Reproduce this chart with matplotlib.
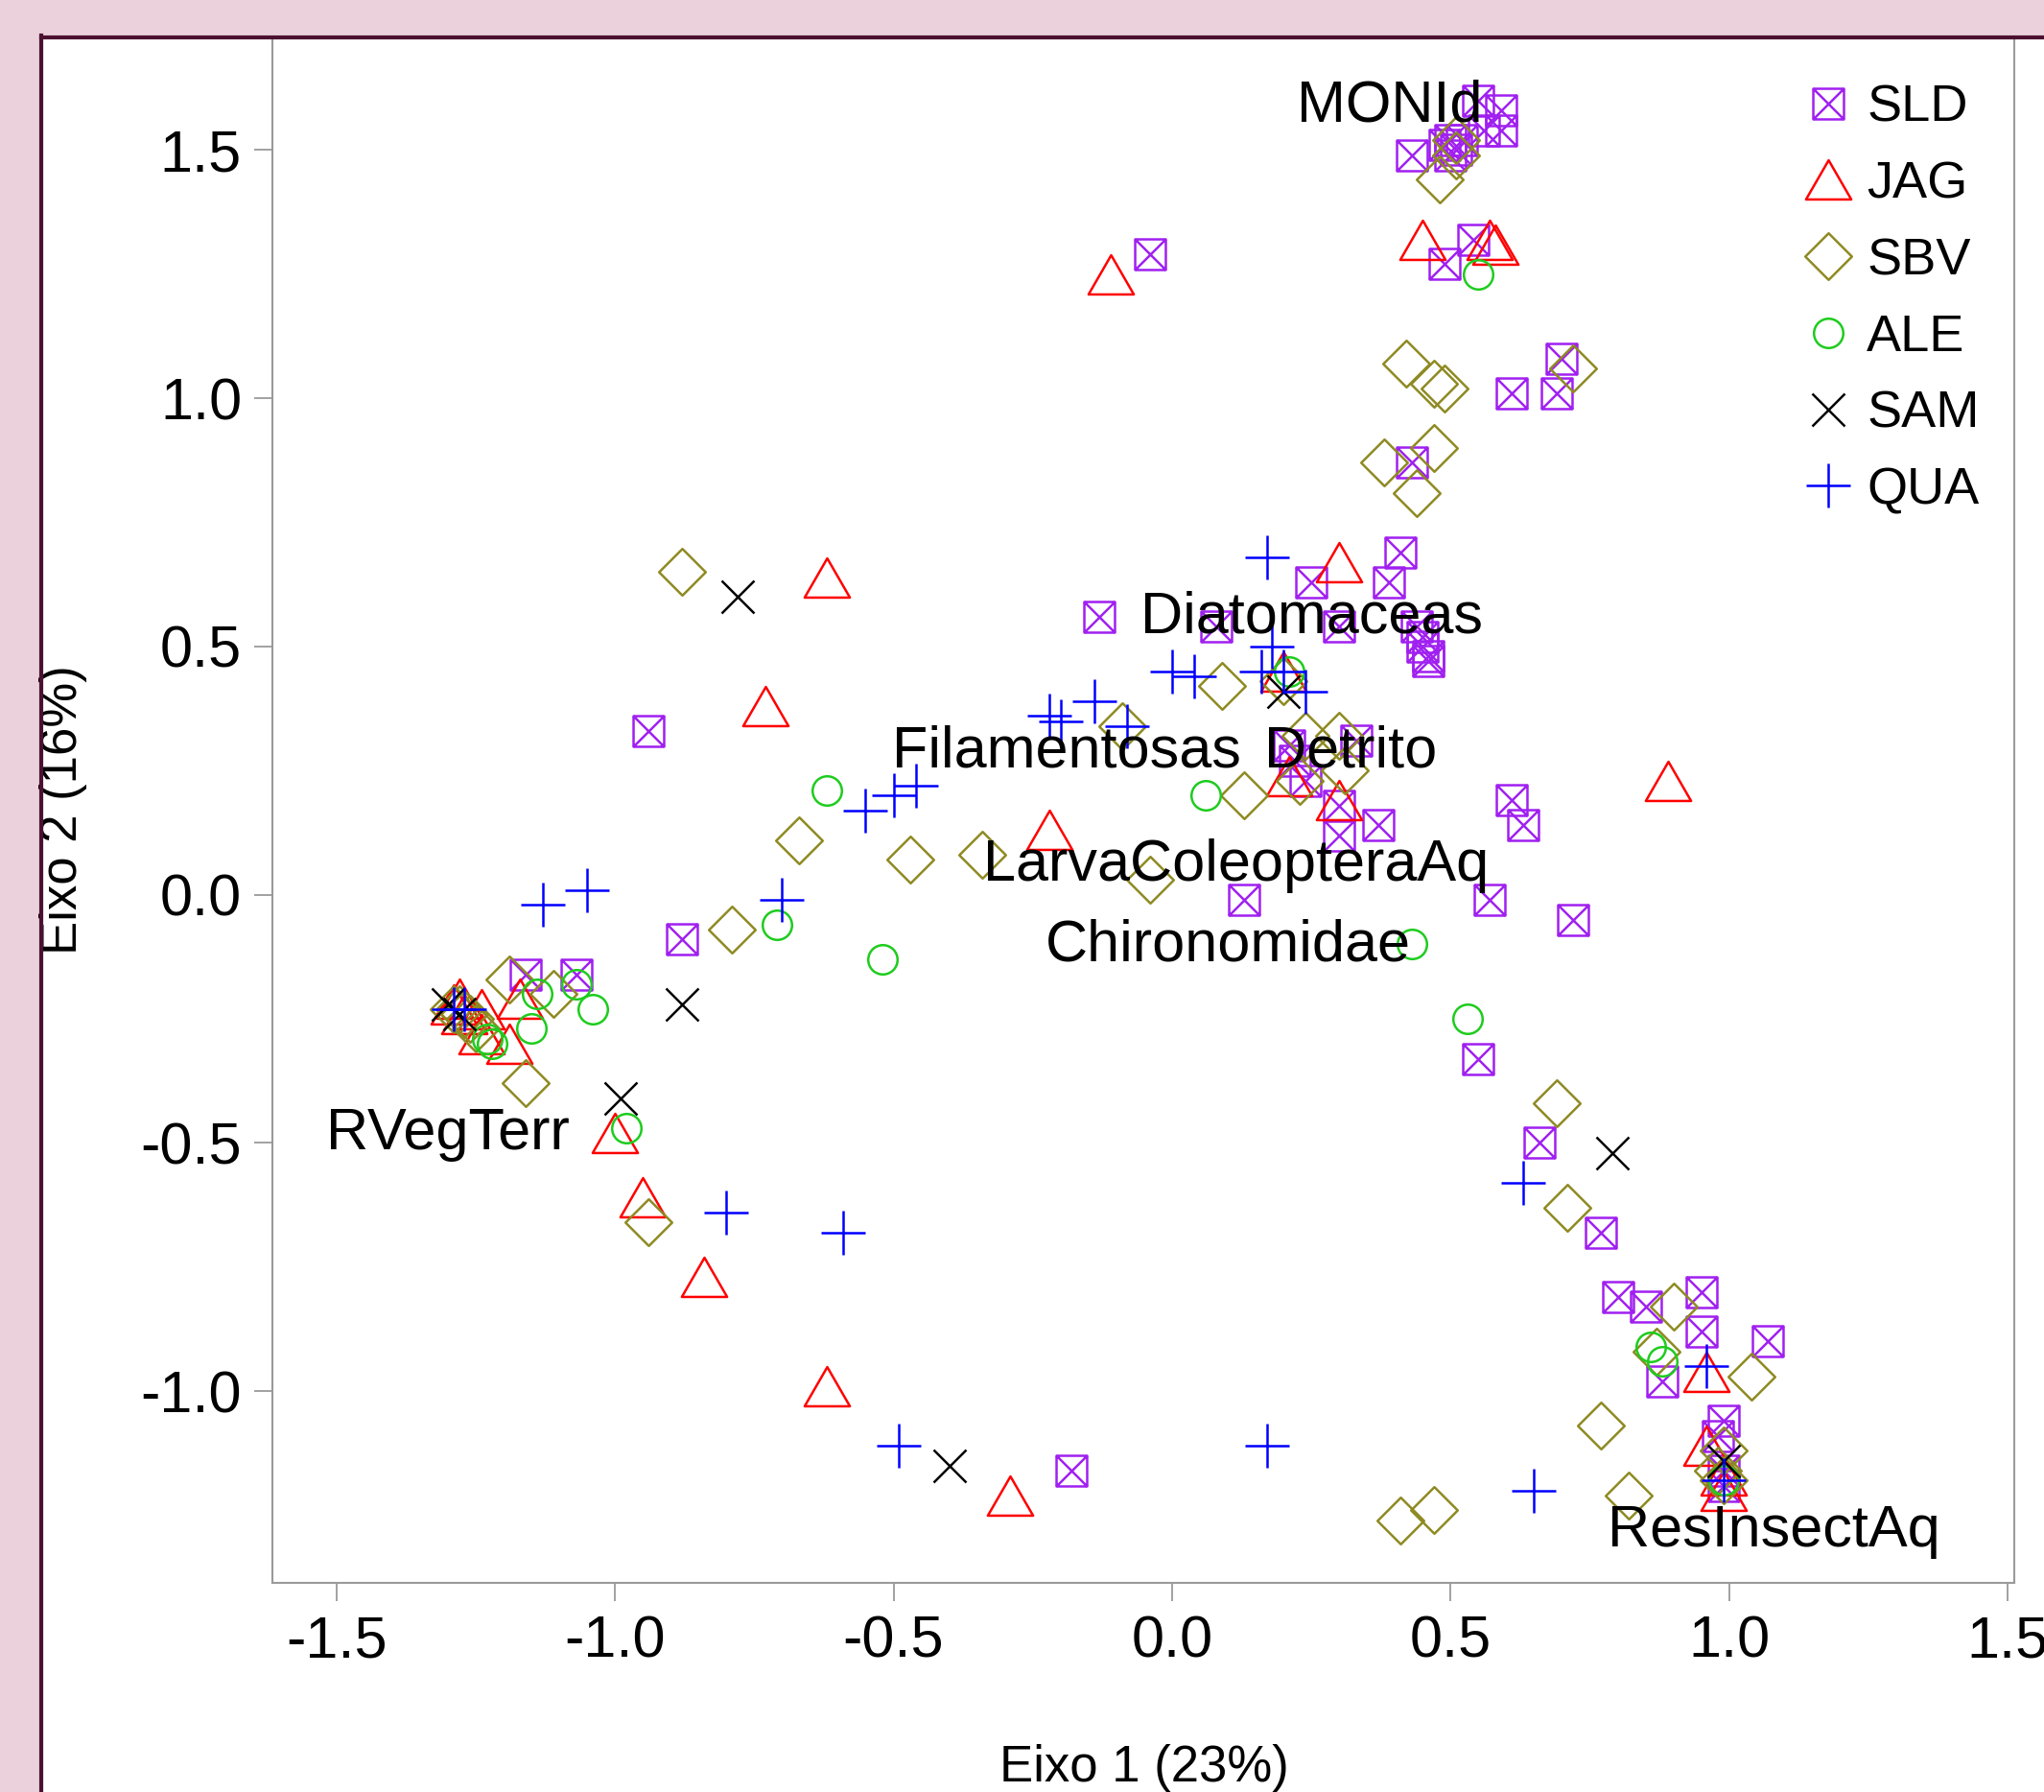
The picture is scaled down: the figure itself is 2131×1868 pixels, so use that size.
import matplotlib
matplotlib.use("Agg")
import matplotlib.pyplot as plt
from matplotlib.path import Path
from matplotlib.lines import Line2D
from matplotlib.patches import Rectangle

plt.rcParams['font.family'] = ['Liberation Sans', 'DejaVu Sans']
plt.rcParams['axes.unicode_minus'] = False

# ---------------- data ----------------
sld_x = [0.55, 0.59, 0.59, 0.56, 0.43, 0.49, 0.50, 0.51, 0.50, 0.52, 0.54, 0.49, -0.04,
         0.61, 0.69, 0.70, 0.43, 0.41, 0.39, 0.25, 0.30, 0.44, 0.45, 0.45, 0.46, 0.46,
         -0.13, 0.08, 0.33, 0.21, 0.22, 0.24, 0.30, 0.30, 0.37, 0.13, 0.61, 0.63, 0.57,
         0.72, -0.88, -0.94, -1.16, -1.07, 0.55, 0.66, 0.77, 0.80, 0.85, 0.95, 0.95, 1.07,
         0.88, 0.99, 0.98, 0.99, 0.99, -0.18]
sld_y = [1.60, 1.58, 1.54, 1.54, 1.49, 1.51, 1.52, 1.50, 1.49, 1.52, 1.32, 1.27, 1.29,
         1.01, 1.01, 1.08, 0.87, 0.69, 0.63, 0.63, 0.54, 0.54, 0.52, 0.50, 0.48, 0.47,
         0.56, 0.54, 0.31, 0.30, 0.27, 0.23, 0.18, 0.12, 0.14, -0.01, 0.19, 0.14, -0.01,
         -0.05, -0.09, 0.33, -0.16, -0.16, -0.33, -0.50, -0.68, -0.81, -0.83, -0.80, -0.88, -0.90,
         -0.98, -1.06, -1.09, -1.19, -1.16, -1.16]

jag_x = [-0.11, 0.45, 0.57, 0.58, -0.62, 0.30, -0.73, 0.89, -0.22, 0.20, 0.30, 0.21,
         -1.28, -1.24, -1.17, -1.24, -1.19, -1.29, -1.27, -1.00, -0.95, -0.84, -0.62, -0.29,
         0.96, 0.96, 0.99, 0.99]
jag_y = [1.25, 1.32, 1.32, 1.31, 0.64, 0.67, 0.38, 0.23, 0.13, 0.45, 0.19, 0.24,
         -0.21, -0.23, -0.21, -0.28, -0.30, -0.22, -0.24, -0.48, -0.61, -0.77, -0.99, -1.21,
         -0.96, -1.11, -1.17, -1.20]

sbv_x = [0.48, 0.51, 0.51, 0.42, 0.47, 0.49, 0.72, 0.38, 0.47, 0.44, -0.88, 0.09, -0.09,
         0.20, 0.13, 0.23, 0.24, 0.30, 0.31, -0.47, -0.34, -0.04, -0.67, -0.79, -1.19, -1.11,
         -1.16, -1.25, -1.28, -1.27, -1.26, -1.29, -0.94, 0.47, 0.41, 0.69, 0.71, 0.90, 0.87,
         1.04, 0.77, 0.82, 0.99, 0.99, 0.98]
sbv_y = [1.44, 1.49, 1.52, 1.07, 1.03, 1.02, 1.06, 0.87, 0.90, 0.81, 0.65, 0.42, 0.34,
         0.43, 0.20, 0.23, 0.32, 0.32, 0.25, 0.07, 0.08, 0.03, 0.11, -0.07, -0.17, -0.20,
         -0.38, -0.27, -0.23, -0.24, -0.25, -0.23, -0.66, -1.24, -1.26, -0.42, -0.63, -0.83, -0.92,
         -0.97, -1.07, -1.21, -1.12, -1.18, -1.16]

ale_x = [0.55, -0.62, 0.06, -0.71, -0.52, 0.43, 0.53, 0.21, 0.86, 0.88, -1.14, -1.07,
         -1.04, -1.15, -1.22, -1.23, -0.98, 0.99]
ale_y = [1.25, 0.21, 0.20, -0.06, -0.13, -0.10, -0.25, 0.45, -0.91, -0.94, -0.20, -0.18,
         -0.23, -0.27, -0.30, -0.29, -0.47, -1.18]

sam_x = [-0.78, 0.20, -0.88, -0.99, -0.40, 0.79, -1.30, -1.28, 0.99]
sam_y = [0.60, 0.41, -0.22, -0.41, -1.15, -0.52, -0.22, -0.24, -1.14]

qua_x = [0.17, 0.00, 0.04, 0.18, 0.16, 0.20, 0.24, -0.22, -0.20, -0.14, -0.08, -0.55,
         -0.50, -0.46, -1.13, -1.05, -0.70, -0.80, -0.59, -0.49, 0.17, 0.65, 0.96, 0.99,
         0.63, -1.29, -1.27]
qua_y = [0.68, 0.45, 0.44, 0.50, 0.45, 0.45, 0.41, 0.36, 0.35, 0.39, 0.34, 0.17,
         0.20, 0.22, -0.02, 0.01, -0.01, -0.64, -0.68, -1.11, -1.11, -1.20, -0.95, -1.18,
         -0.58, -0.23, -0.23]

label_names = ["MONId", "Diatomaceas", "Filamentosas", "Detrito", "LarvaColeopteraAq",
               "Chironomidae", "RVegTerr", "ResInsectAq"]
label_x = [0.39, 0.25, -0.19, 0.32, 0.115, 0.10, -1.30, 1.08]
label_y = [1.60, 0.57, 0.30, 0.30, 0.07, -0.09, -0.47, -1.27]

group_names = ["SLD", "JAG", "SBV", "ALE", "SAM", "QUA"]
x_ticks = [-1.5, -1.0, -0.5, 0.0, 0.5, 1.0, 1.5]
x_tick_labels = ["-1.5", "-1.0", "-0.5", "0.0", "0.5", "1.0", "1.5"]
y_ticks = [-1.0, -0.5, 0.0, 0.5, 1.0, 1.5]
y_tick_labels = ["-1.0", "-0.5", "0.0", "0.5", "1.0", "1.5"]
x_title = "Eixo 1 (23%)"
y_title = "Eixo 2 (16%)"

# ---------------- markers ----------------
M, L, C = Path.MOVETO, Path.LINETO, Path.CLOSEPOLY
box_x = Path([(-1, -1), (1, -1), (1, 1), (-1, 1), (-1, -1),
              (-1, -1), (1, 1), (-1, 1), (1, -1)],
             [M, L, L, L, C, M, L, M, L])
tri = Path([(0, 0.75), (0.866, -0.75), (-0.866, -0.75), (0, 0.75)], [M, L, L, C])
dia = Path([(0, 1), (1, 0), (0, -1), (-1, 0), (0, 1)], [M, L, L, L, C])

styles = [
    (sld_x, sld_y, box_x, 23, "#A020F0"),
    (jag_x, jag_y, tri, 34, "#FF0000"),
    (sbv_x, sbv_y, dia, 35, "#8E8A22"),
    (ale_x, ale_y, "o", 22, "#1ECC1E"),
    (sam_x, sam_y, "x", 24, "#000000"),
    (qua_x, qua_y, "+", 33, "#0000FF"),
]

W, H = 2131, 1868
fig = plt.figure(figsize=(W / 100, H / 100), dpi=100)
fig.patch.set_facecolor("#EAD1DC")

x0 = 43 / W
y1 = 1 - 38.5 / H
fig.add_artist(Rectangle((x0, 0), 1 - x0, y1, transform=fig.transFigure,
                         facecolor="white", edgecolor="none", zorder=-5))

ax = fig.add_axes([284 / W, 1 - 1650 / H, (2100 - 284) / W, (1650 - 40) / H])
ax.set_facecolor("white")

handles = []
for (xs, ys, mk, ms, col), name in zip(styles, group_names):
    h, = ax.plot(xs, ys, linestyle="none", marker=mk, markersize=ms,
                 markerfacecolor="none", markeredgecolor=col, markeredgewidth=1.8,
                 label=name)
    handles.append(h)

for name, lx, ly in zip(label_names, label_x, label_y):
    ax.text(lx, ly, name, fontsize=44, ha="center", va="center_baseline", color="black",
            zorder=10)

ax.set_xlim(-1.615, 1.512)
ax.set_ylim(-1.386, 1.725)
ax.set_xticks(x_ticks)
ax.set_xticklabels(x_tick_labels)
ax.set_yticks(y_ticks)
ax.set_yticklabels(y_tick_labels)
ax.tick_params(axis="both", direction="out", length=14, width=1.3, color="#9a9a9a",
               labelsize=44, labelcolor="black")
ax.tick_params(axis="x", pad=10)
ax.tick_params(axis="y", pad=9)
for sp in ax.spines.values():
    sp.set_color("#9a9a9a")
    sp.set_linewidth(1.5)

leg = ax.legend(handles=handles, loc="upper left", bbox_to_anchor=(0.878, 0.9705),
                frameon=False, fontsize=39, handlelength=1.0, handletextpad=0.25,
                labelspacing=0.55, borderpad=0, borderaxespad=0, numpoints=1)

fig.text(1193 / W, 1 - 1843 / H, x_title, fontsize=38, ha="center", va="center")
fig.text(66 / W, 1 - 844 / H, y_title, fontsize=38, ha="center", va="center", rotation=90)

fig.add_artist(Line2D([x0, x0], [0, y1 + 1.5 / H], transform=fig.transFigure,
                      color="#4C1130", linewidth=3, zorder=20))
fig.add_artist(Line2D([x0, 1], [y1, y1], transform=fig.transFigure,
                      color="#4C1130", linewidth=3, zorder=20))

fig.savefig("out.png", dpi=100, facecolor=fig.get_facecolor())
